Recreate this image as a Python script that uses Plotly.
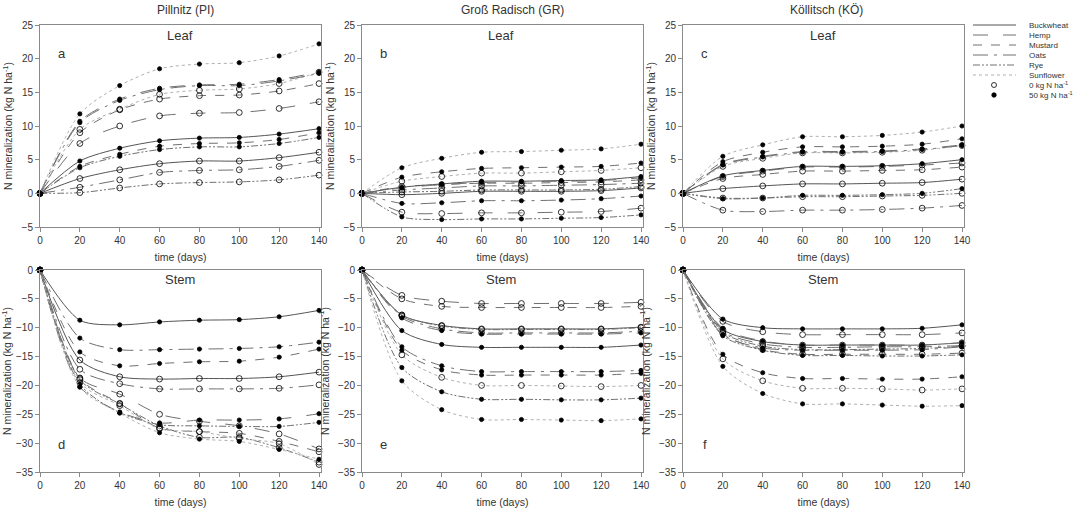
import plotly.graph_objects as go

days = [0, 20, 40, 60, 80, 100, 120, 140]
crops = ["Buckwheat", "Hemp", "Mustard", "Oats", "Rye", "Sunflower"]
sites = ["Pillnitz (PI)", "Groß Radisch (GR)", "Köllitsch (KÖ)"]
panel_letters = ["a", "b", "c", "d", "e", "f"]

# Each list: values for crops in order Buckwheat, Hemp, Mustard, Oats, Rye, Sunflower (days 0..140)
pi_leaf_0 = [
    [0, 2.2, 3.5, 4.4, 4.8, 4.8, 5.3, 6.1],
    [0, 7.4, 10.0, 11.5, 11.9, 12.0, 12.6, 13.6],
    [0, 9.0, 12.4, 14.0, 14.5, 14.6, 15.2, 16.3],
    [0, 0.9, 2.0, 3.1, 3.4, 3.5, 4.0, 4.9],
    [0, 0.1, 0.8, 1.4, 1.6, 1.7, 2.0, 2.7],
    [0, 9.5, 12.5, 14.7, 15.3, 15.5, 16.3, 18.0],
]
pi_leaf_50 = [
    [0, 4.8, 6.7, 7.8, 8.2, 8.3, 8.8, 9.6],
    [0, 10.7, 14.0, 15.6, 16.1, 16.2, 16.9, 18.0],
    [0, 4.0, 5.8, 7.0, 7.4, 7.5, 8.0, 9.0],
    [0, 10.5, 13.8, 15.4, 16.0, 16.0, 16.7, 17.8],
    [0, 3.8, 5.5, 6.5, 6.9, 6.9, 7.4, 8.3],
    [0, 11.8, 16.0, 18.5, 19.2, 19.4, 20.4, 22.2],
]
gr_leaf_0 = [
    [0, -0.2, 0.0, 0.3, 0.3, 0.3, 0.4, 0.8],
    [0, -2.8, -3.0, -2.9, -2.9, -2.8, -2.7, -2.2],
    [0, 1.0, 1.3, 1.5, 1.5, 1.6, 1.7, 2.0],
    [0, 0.5, 0.8, 1.1, 1.1, 1.2, 1.3, 1.5],
    [0, 0.2, 0.3, 0.5, 0.5, 0.5, 0.6, 1.0],
    [0, 1.8, 2.5, 3.0, 3.0, 3.2, 3.4, 3.8],
]
gr_leaf_50 = [
    [0, 0.9, 1.4, 1.8, 1.8, 1.9, 2.0, 2.5],
    [0, 0.8, 1.3, 1.6, 1.7, 1.8, 1.9, 2.3],
    [0, 2.4, 3.2, 3.7, 3.8, 3.9, 4.0, 4.5],
    [0, -1.5, -1.4, -1.1, -1.1, -1.0, -0.8, -0.4],
    [0, -3.5, -3.9, -3.8, -3.8, -3.7, -3.6, -3.2],
    [0, 3.8, 5.2, 6.1, 6.2, 6.4, 6.6, 7.3],
]
ko_leaf_0 = [
    [0, 0.7, 1.1, 1.4, 1.4, 1.5, 1.6, 2.1],
    [0, 2.5, 3.3, 3.9, 3.9, 4.0, 4.2, 4.5],
    [0, 2.2, 2.8, 3.3, 3.3, 3.4, 3.5, 3.9],
    [0, -2.5, -2.7, -2.5, -2.5, -2.4, -2.2, -1.8],
    [0, -0.7, -0.7, -0.5, -0.5, -0.4, -0.3, 0.0],
    [0, 4.0, 5.2, 6.0, 6.0, 6.1, 6.4, 7.1],
]
ko_leaf_50 = [
    [0, 2.6, 3.4, 4.0, 4.0, 4.1, 4.4, 5.0],
    [0, 4.3, 5.5, 6.2, 6.2, 6.3, 6.6, 7.2],
    [0, 4.7, 6.1, 6.9, 6.9, 7.0, 7.3, 8.1],
    [0, 4.2, 5.4, 6.1, 6.1, 6.2, 6.5, 7.1],
    [0, -0.8, -0.7, -0.3, -0.3, -0.2, 0.0, 0.7],
    [0, 5.5, 7.2, 8.4, 8.4, 8.6, 9.1, 10.0],
]
pi_stem_0 = [
    [0, -15.6, -18.5, -18.9, -18.8, -18.8, -18.5, -17.7],
    [0, -18.7, -21.5, -25.0, -26.2, -27.0, -28.4, -31.0],
    [0, -18.8, -23.1, -27.4, -28.0, -28.3, -29.7, -31.5],
    [0, -17.2, -19.7, -20.6, -20.6, -20.6, -20.5, -19.9],
    [0, -19.0, -23.2, -27.0, -29.0, -29.0, -30.8, -33.3],
    [0, -19.5, -23.5, -27.5, -28.0, -29.2, -30.1, -33.7],
]
pi_stem_50 = [
    [0, -8.7, -9.5, -9.0, -8.7, -8.6, -8.1, -7.0],
    [0, -20.2, -24.6, -26.5, -26.0, -26.0, -25.8, -24.9],
    [0, -14.2, -16.6, -16.2, -15.9, -15.8, -15.1, -13.7],
    [0, -11.8, -13.8, -13.8, -13.7, -13.6, -13.3, -12.5],
    [0, -19.8, -24.7, -26.8, -27.0, -27.1, -27.1, -26.4],
    [0, -20.3, -24.8, -28.2, -29.3, -29.7, -31.1, -32.8],
]
gr_stem_0 = [
    [0, -7.8, -9.6, -10.2, -10.2, -10.2, -10.2, -9.9],
    [0, -4.4, -5.4, -5.8, -5.8, -5.8, -5.8, -5.6],
    [0, -5.0, -6.3, -6.5, -6.5, -6.5, -6.5, -6.3],
    [0, -8.0, -10.2, -10.9, -10.9, -10.9, -10.9, -10.6],
    [0, -7.8, -9.7, -10.3, -10.3, -10.3, -10.3, -10.0],
    [0, -14.7, -18.6, -20.0, -20.0, -20.1, -20.2, -20.0],
]
gr_stem_50 = [
    [0, -10.5, -12.9, -13.4, -13.4, -13.4, -13.4, -13.0],
    [0, -8.3, -10.5, -11.1, -11.1, -11.1, -11.1, -10.9],
    [0, -13.9, -17.3, -18.2, -18.2, -18.2, -18.2, -17.9],
    [0, -13.3, -16.6, -17.6, -17.6, -17.6, -17.6, -17.4],
    [0, -16.9, -21.1, -22.4, -22.4, -22.5, -22.5, -22.2],
    [0, -19.2, -24.2, -25.9, -25.9, -26.0, -26.1, -25.8],
]
ko_stem_0 = [
    [0, -10.3, -12.4, -13.0, -13.0, -13.0, -13.0, -12.6],
    [0, -8.9, -10.7, -11.2, -11.2, -11.2, -11.2, -10.9],
    [0, -11.0, -13.8, -14.6, -14.6, -14.6, -14.6, -14.4],
    [0, -10.6, -12.8, -13.4, -13.4, -13.3, -13.3, -13.1],
    [0, -10.8, -13.2, -13.8, -13.8, -13.7, -13.6, -13.2],
    [0, -15.4, -19.2, -20.5, -20.5, -20.6, -20.8, -20.6],
]
ko_stem_50 = [
    [0, -8.5, -10.0, -10.2, -10.2, -10.2, -10.1, -9.5],
    [0, -10.1, -12.3, -13.0, -13.0, -13.0, -13.0, -12.6],
    [0, -14.6, -17.8, -18.8, -18.8, -18.9, -18.9, -18.5],
    [0, -11.2, -13.5, -13.9, -13.9, -13.9, -13.8, -13.3],
    [0, -11.4, -13.9, -14.8, -14.8, -14.9, -14.9, -14.7],
    [0, -16.7, -21.4, -23.2, -23.2, -23.4, -23.6, -23.5],
]

panels = [
    (pi_leaf_0, pi_leaf_50), (gr_leaf_0, gr_leaf_50), (ko_leaf_0, ko_leaf_50),
    (pi_stem_0, pi_stem_50), (gr_stem_0, gr_stem_50), (ko_stem_0, ko_stem_50),
]

W, H = 1083, 514
FONT = "Liberation Sans, Arial, sans-serif"
TXT = "#333333"
AXC = "#8a8a8a"

dashes = ["solid", "longdash", "dash", "longdashdot", "7px,2px,2px,2px,2px,2px", "dot"]
lcols = ["#555555", "#707070", "#707070", "#707070", "#707070", "#b0b0b0"]

xpix = [(40, 321), (362, 643), (683, 964)]
ypix = [(25, 227), (270, 472)]

fig = go.Figure()

def dom_x(p):
    return [p[0] / W, p[1] / W]

def dom_y(p):
    return [1 - p[1] / H, 1 - p[0] / H]

layout = dict(width=W, height=H, margin=dict(l=0, r=0, t=0, b=0, autoexpand=False),
              paper_bgcolor="white", plot_bgcolor="white", showlegend=False,
              font=dict(family=FONT, color=TXT))
annotations = []

for i, (s0, s50) in enumerate(panels):
    row, col = divmod(i, 3)
    n = i + 1
    xa = "x" if n == 1 else f"x{n}"
    ya = "y" if n == 1 else f"y{n}"
    for level, series in ((0, s0), (50, s50)):
        for c, vals in enumerate(series):
            fig.add_trace(go.Scatter(
                x=days, y=vals, xaxis=xa, yaxis=ya, mode="lines+markers",
                line=dict(color=lcols[c], width=1, dash=dashes[c], shape="spline", smoothing=0.8),
                marker=dict(symbol="circle" if level == 50 else "circle-open",
                            size=4.2 if level == 50 else 5.8, color="black",
                            line=dict(width=0.8, color="black")),
                cliponaxis=False, name=f"{crops[c]} {level}"))
    yr = [-5, 25] if row == 0 else [-35, 0]
    layout["xaxis" if n == 1 else f"xaxis{n}"] = dict(
        domain=dom_x(xpix[col]), anchor=ya, range=[0, 141], tickvals=days, automargin=False,
        ticks="outside", ticklen=4, tickcolor=AXC, showline=True, linecolor=AXC, mirror=True,
        showgrid=False, zeroline=False, tickfont=dict(size=10, color=TXT),
        title=dict(text="time (days)", font=dict(size=10.5, color=TXT), standoff=8))
    layout["yaxis" if n == 1 else f"yaxis{n}"] = dict(
        domain=dom_y(ypix[row]), anchor=xa, range=yr, dtick=5, automargin=False,
        ticks="outside", ticklen=4, tickcolor=AXC, showline=True, linecolor=AXC, mirror=True,
        showgrid=False, zeroline=False, tickfont=dict(size=10, color=TXT),
        title=dict(text="N mineralization (kg N ha<sup>-1</sup>)", font=dict(size=10.5, color=TXT), standoff=6))
    annotations.append(dict(xref=xa, yref=ya, x=70, y=23.5 if row == 0 else -1.6,
                            xanchor="center", yanchor="middle",
                            text="Leaf" if row == 0 else "Stem", showarrow=False,
                            font=dict(size=13, color=TXT)))
    annotations.append(dict(xref=xa, yref=ya, x=11, y=20.8 if row == 0 else -30.2,
                            xanchor="center", yanchor="middle",
                            text=panel_letters[i], showarrow=False,
                            font=dict(size=13, color=TXT)))

site_cx = [185, 512, 826]
for col, name in enumerate(sites):
    annotations.append(dict(xref="paper", yref="paper", x=site_cx[col] / W, y=1 - 10 / H,
                            xanchor="center", yanchor="middle",
                            text=name, showarrow=False, font=dict(size=12, color=TXT)))

# legend drawn on hidden pixel-scaled axis
layout["xaxis7"] = dict(domain=[965 / W, 1.0], range=[965, 1083], visible=False, anchor="y7")
layout["yaxis7"] = dict(domain=[1 - 105 / H, 1 - 15 / H], range=[105, 15], visible=False, anchor="x7")
leg_labels = crops + ["0 kg N ha<sup>-1</sup>", "50 kg N ha<sup>-1</sup>"]
for k, lab in enumerate(leg_labels):
    yy = 25 + 10 * k
    if k < 6:
        fig.add_trace(go.Scatter(x=[973, 1016], y=[yy, yy], xaxis="x7", yaxis="y7", mode="lines",
                                 line=dict(color=lcols[k], width=1, dash=dashes[k]), hoverinfo="skip"))
    else:
        fig.add_trace(go.Scatter(x=[994], y=[yy], xaxis="x7", yaxis="y7", mode="markers",
                                 marker=dict(symbol="circle-open" if k == 6 else "circle",
                                             size=5 if k == 6 else 4.5, color="black",
                                             line=dict(width=0.8, color="black")),
                                 hoverinfo="skip", cliponaxis=False))
    annotations.append(dict(xref="x7", yref="y7", x=1027, y=yy, xanchor="left", yanchor="middle",
                            text=lab, showarrow=False, font=dict(size=8, color=TXT)))

layout["annotations"] = annotations
fig.update_layout(**layout)
fig.write_html("out.html")
